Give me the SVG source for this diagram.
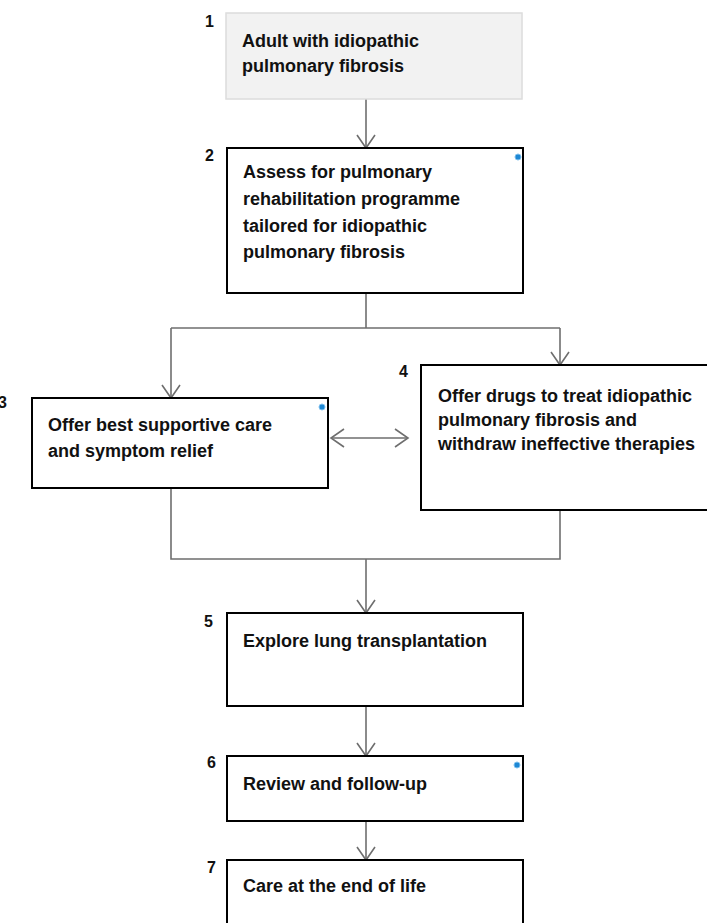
<svg xmlns="http://www.w3.org/2000/svg" width="707" height="923" viewBox="0 0 707 923">
<style>
.box{fill:#ffffff;stroke:#000000;stroke-width:2}
.start{fill:#f2f2f2;stroke:#dcdcdc;stroke-width:1.5}
.t{font-family:"Liberation Sans",Arial,sans-serif;font-weight:bold;font-size:18px;fill:#111111}
.n{font-family:"Liberation Sans",Arial,sans-serif;font-weight:bold;font-size:16px;fill:#111111}
.c{fill:none;stroke:#6e6e6e;stroke-width:1.6}
.dot{fill:#1e88d4;stroke:#7fc0ee;stroke-width:1}
</style>
<defs>
<marker id="ah" markerUnits="userSpaceOnUse" markerWidth="20" markerHeight="20" viewBox="0 0 20 20" refX="14" refY="10" orient="auto-start-reverse">
<path d="M1,1 L14,10 L1,19" fill="none" stroke="#6e6e6e" stroke-width="1.6"/>
</marker>
</defs>
<g id="connectors">
<path class="c" d="M366,99 V148" marker-end="url(#ah)"/>
<path class="c" d="M366,293 V328"/>
<path class="c" d="M171,328 H560"/>
<path class="c" d="M171,328 V398" marker-end="url(#ah)"/>
<path class="c" d="M560,328 V365" marker-end="url(#ah)"/>
<path class="c" d="M331,438 H408" marker-start="url(#ah)" marker-end="url(#ah)"/>
<path class="c" d="M171,488 V559 H560 V510"/>
<path class="c" d="M366,559 V613" marker-end="url(#ah)"/>
<path class="c" d="M366,706 V756" marker-end="url(#ah)"/>
<path class="c" d="M366,821 V860" marker-end="url(#ah)"/>
</g>
<g id="node1">
<rect class="start" x="226" y="13" width="296" height="86"/>
<text class="n" x="205" y="27">1</text>
<text class="t" x="242" y="47">Adult with idiopathic</text>
<text class="t" x="242" y="72">pulmonary fibrosis</text>
</g>
<g id="node2">
<rect class="box" x="227" y="148" width="296" height="145"/>
<text class="n" x="205" y="161">2</text>
<circle class="dot" cx="518" cy="157" r="3"/>
<text class="t" x="243" y="178">Assess for pulmonary</text>
<text class="t" x="243" y="205">rehabilitation programme</text>
<text class="t" x="243" y="232">tailored for idiopathic</text>
<text class="t" x="243" y="258">pulmonary fibrosis</text>
</g>
<g id="node3">
<rect class="box" x="32" y="398" width="296" height="90"/>
<text class="n" x="-2" y="408">3</text>
<circle class="dot" cx="322" cy="407" r="3"/>
<text class="t" x="48" y="431">Offer best supportive care</text>
<text class="t" x="48" y="457">and symptom relief</text>
</g>
<g id="node4">
<rect class="box" x="421" y="365" width="300" height="145"/>
<text class="n" x="399" y="377">4</text>
<text class="t" x="438" y="402">Offer drugs to treat idiopathic</text>
<text class="t" x="438" y="426">pulmonary fibrosis and</text>
<text class="t" x="438" y="450">withdraw ineffective therapies</text>
</g>
<g id="node5">
<rect class="box" x="227" y="613" width="296" height="93"/>
<text class="n" x="204" y="627">5</text>
<text class="t" x="243" y="647">Explore lung transplantation</text>
</g>
<g id="node6">
<rect class="box" x="227" y="756" width="296" height="65"/>
<text class="n" x="207" y="768">6</text>
<circle class="dot" cx="517" cy="765" r="3"/>
<text class="t" x="243" y="790">Review and follow-up</text>
</g>
<g id="node7">
<rect class="box" x="227" y="860" width="296" height="80"/>
<text class="n" x="207" y="873">7</text>
<text class="t" x="243" y="892">Care at the end of life</text>
</g>
</svg>
